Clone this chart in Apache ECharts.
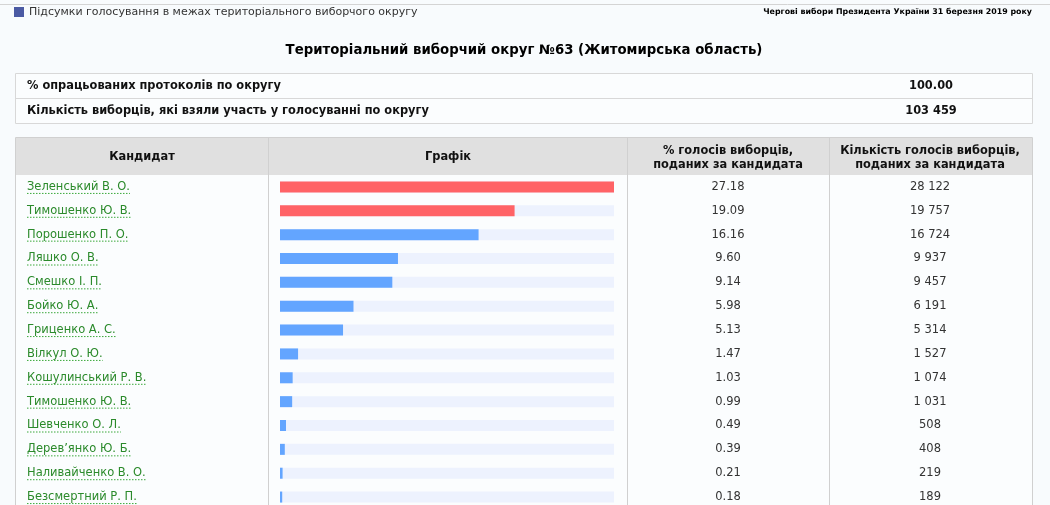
<!DOCTYPE html>
<html>
<head>
<meta charset="utf-8">
<script src="https://cdn.jsdelivr.net/npm/echarts@6/dist/echarts.min.js"></script>
<style>
  html, body { margin: 0; padding: 0; background: #f8fbfd; overflow: hidden; }
  #chart { width: 1050px; height: 540px; }
</style>
</head>
<body>
<div id="chart"></div>
<script>
// дані з таблиці округу №63
const candidates = [
  'Зеленський В. О.', 'Тимошенко Ю. В.', 'Порошенко П. О.', 'Ляшко О. В.',
  'Смешко І. П.', 'Бойко Ю. А.', 'Гриценко А. С.', 'Вілкул О. Ю.',
  'Кошулинський Р. В.', 'Тимошенко Ю. В.', 'Шевченко О. Л.', 'Дерев’янко Ю. Б.',
  'Наливайченко В. О.', 'Безсмертний Р. П.'
];
const percents = [27.18, 19.09, 16.16, 9.60, 9.14, 5.98, 5.13, 1.47, 1.03, 0.99, 0.49, 0.39, 0.21, 0.18];
const votes = [28122, 19757, 16724, 9937, 9457, 6191, 5314, 1527, 1074, 1031, 508, 408, 219, 189];
const protocolsPct = '100.00';
const turnout = 103459;

const FONT = '"DejaVu Sans", Verdana, sans-serif';
const GREEN = '#2b8a2b';
const BODY_SIZE = 11.5;
const fmtNum = n => String(n).replace(/\B(?=(\d{3})+(?!\d))/g, ' ');

// ширина тексту для пунктирного підкреслення
const _ctx = document.createElement('canvas').getContext('2d');
_ctx.font = BODY_SIZE + 'px ' + FONT;
const textW = s => _ctx.measureText(s).width;

const chart = echarts.init(document.getElementById('chart'));

const cat = (data, pos, margin, align, color) => ({
  type: 'category',
  data: data,
  inverse: true,
  position: pos,
  offset: 0,
  axisLine: { show: false },
  axisTick: { show: false },
  splitLine: { show: false },
  axisLabel: { margin: margin, align: align, color: color, fontSize: BODY_SIZE, fontFamily: FONT }
});

const bold = s => 'bold ' + s + 'px ' + FONT;

chart.setOption({
  animation: false,
  grid: { left: 280, right: 436, top: 175, height: 334 },
  xAxis: { type: 'value', min: 0, max: Math.max(...percents), show: false },
  yAxis: [
    cat(candidates, 'left', 253, 'left', GREEN),
    cat(percents.map(v => v.toFixed(2)), 'right', 114, 'center', '#333'),
    cat(votes.map(fmtNum), 'right', 316, 'center', '#333')
  ],
  graphic: [
    { type: 'line', shape: { x1: 0, y1: 4.5, x2: 1050, y2: 4.5 }, style: { stroke: '#d4d4d4', lineWidth: 1 } },
    { type: 'rect', shape: { x: 14, y: 7, width: 10, height: 10 }, style: { fill: '#4b5aa3' } },
    { type: 'text', x: 29, y: 12, style: { text: 'Підсумки голосування в межах територіального виборчого округу', fill: '#333', font: '11px ' + FONT, verticalAlign: 'middle' } },
    { type: 'text', x: 1032, y: 12, style: { text: 'Чергові вибори Президента України 31 березня 2019 року', fill: '#000', font: bold(7.9), align: 'right', verticalAlign: 'middle' } },
    { type: 'text', x: 524, y: 51, style: { text: 'Територіальний виборчий округ №63 (Житомирська область)', fill: '#000', font: bold(13.3), align: 'center', verticalAlign: 'middle' } },

    // інфо-блок
    { type: 'rect', shape: { x: 15.5, y: 73.5, width: 1017, height: 50 }, style: { fill: '#fbfdfe', stroke: '#d8d8d8', lineWidth: 1 } },
    { type: 'line', shape: { x1: 15.5, y1: 98.5, x2: 1032.5, y2: 98.5 }, style: { stroke: '#d8d8d8', lineWidth: 1 } },
    { type: 'text', x: 27, y: 86, style: { text: '% опрацьованих протоколів по округу', fill: '#111', font: bold(11.4), verticalAlign: 'middle' } },
    { type: 'text', x: 27, y: 111, style: { text: 'Кількість виборців, які взяли участь у голосуванні по округу', fill: '#111', font: bold(11.4), verticalAlign: 'middle' } },
    { type: 'text', x: 931, y: 86, style: { text: protocolsPct, fill: '#111', font: bold(11.4), align: 'center', verticalAlign: 'middle' } },
    { type: 'text', x: 931, y: 111, style: { text: fmtNum(turnout), fill: '#111', font: bold(11.4), align: 'center', verticalAlign: 'middle' } },

    // таблиця кандидатів
    { type: 'rect', z: -10, shape: { x: 15.5, y: 137.5, width: 1017, height: 420 }, style: { fill: '#fbfdfe', stroke: '#d0d0d0', lineWidth: 1 } },
    { type: 'rect', z: -9, shape: { x: 16, y: 138, width: 1016, height: 37 }, style: { fill: '#e0e0e0' } },
    { type: 'line', z: -8, shape: { x1: 268.5, y1: 137.5, x2: 268.5, y2: 540 }, style: { stroke: '#d0d0d0', lineWidth: 1 } },
    { type: 'line', z: -8, shape: { x1: 627.5, y1: 137.5, x2: 627.5, y2: 540 }, style: { stroke: '#d0d0d0', lineWidth: 1 } },
    { type: 'line', z: -8, shape: { x1: 829.5, y1: 137.5, x2: 829.5, y2: 540 }, style: { stroke: '#d0d0d0', lineWidth: 1 } },
    { type: 'text', x: 142, y: 157, style: { text: 'Кандидат', fill: '#111', font: bold(11.4), align: 'center', verticalAlign: 'middle' } },
    { type: 'text', x: 448, y: 157, style: { text: 'Графік', fill: '#111', font: bold(11.4), align: 'center', verticalAlign: 'middle' } },
    { type: 'text', x: 728, y: 158, style: { text: '% голосів виборців,\nподаних за кандидата', fill: '#111', font: bold(11.4), align: 'center', verticalAlign: 'middle', lineHeight: 14 } },
    { type: 'text', x: 930, y: 158, style: { text: 'Кількість голосів виборців,\nподаних за кандидата', fill: '#111', font: bold(11.4), align: 'center', verticalAlign: 'middle', lineHeight: 14 } }
  ],
  series: [
    {
      type: 'bar',
      yAxisIndex: 0,
      barWidth: 11,
      data: percents.map((v, i) => ({ value: v, itemStyle: { color: i < 2 ? '#ff6366' : '#63a5ff' } })),
      showBackground: true,
      backgroundStyle: { color: '#edf2fe' },
      silent: true
    },
    {
      // пунктирне підкреслення імен
      type: 'custom',
      yAxisIndex: 0,
      silent: true,
      data: candidates.map((c, i) => [0, i]),
      renderItem: (params, api) => {
        const y = api.coord([0, api.value(1)])[1];
        const w = textW(candidates[params.dataIndex]);
        return {
          type: 'line',
          shape: { x1: 27, y1: y + 6.5, x2: 27 + w, y2: y + 6.5 },
          style: { stroke: '#3aa83a', lineWidth: 1, lineDash: [1.5, 1.5] }
        };
      }
    }
  ]
});
</script>
</body>
</html>
